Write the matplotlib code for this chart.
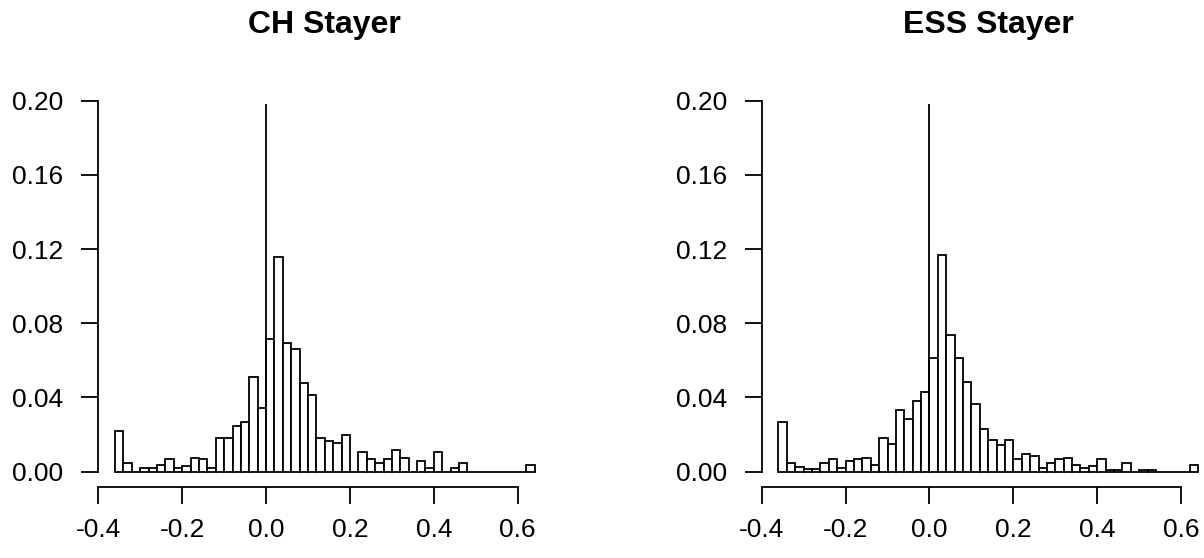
import matplotlib
matplotlib.use("Agg")
import matplotlib.pyplot as plt
import numpy as np

# ---- data ----
bin_start = -0.36
bin_width = 0.02
n_bins = 50

ch_heights = [0.0219, 0.0049, 0.0, 0.0018, 0.0018, 0.0038, 0.0066, 0.0018, 0.0029, 0.0075,
              0.0066, 0.0020, 0.0181, 0.0181, 0.0248, 0.0268, 0.0509, 0.0343, 0.0717, 0.1157,
              0.0695, 0.0660, 0.0478, 0.0413, 0.0181, 0.0164, 0.0156, 0.0199, 0.0, 0.0104,
              0.0066, 0.0049, 0.0066, 0.0115, 0.0075, 0.0, 0.0057, 0.0020, 0.0104, 0.0,
              0.0020, 0.0047, 0.0, 0.0, 0.0, 0.0, 0.0, 0.0, 0.0, 0.0038]

ess_heights = [0.0268, 0.0047, 0.0027, 0.0012, 0.0012, 0.0047, 0.0066, 0.0020, 0.0058, 0.0066,
               0.0075, 0.0038, 0.0181, 0.0151, 0.0334, 0.0286, 0.0383, 0.0431, 0.0615, 0.1168,
               0.0735, 0.0615, 0.0485, 0.0363, 0.0228, 0.0173, 0.0143, 0.0173, 0.0066, 0.0095,
               0.0086, 0.0018, 0.0047, 0.0066, 0.0075, 0.0038, 0.0018, 0.0029, 0.0066, 0.0009,
               0.0009, 0.0047, 0.0, 0.0009, 0.0009, 0.0, 0.0, 0.0, 0.0, 0.0038]

titles = ["CH Stayer", "ESS Stayer"]
x_ticks = [-0.4, -0.2, 0.0, 0.2, 0.4, 0.6]
x_tick_labels = ["-0.4", "-0.2", "0.0", "0.2", "0.4", "0.6"]
y_ticks = [0.00, 0.04, 0.08, 0.12, 0.16, 0.20]
y_tick_labels = ["0.00", "0.04", "0.08", "0.12", "0.16", "0.20"]
vline_top = 0.198

# ---- figure ----
W, H = 1204, 558
fig = plt.figure(figsize=(W / 100, H / 100), dpi=100)
plt.rcParams['font.family'] = ['Liberation Sans', 'DejaVu Sans']

edges = bin_start + bin_width * np.arange(n_bins)
xlim = (-0.40, 0.68)
ylim = (-0.008, 0.208)

ax_left_px = [98.3, 761.7]
ax_w_px = 453.0
ax_top_px = 85.9
ax_bot_px = 486.5

for i, (title, heights) in enumerate(zip(titles, [ch_heights, ess_heights])):
    ax = fig.add_axes([ax_left_px[i] / W, 1 - ax_bot_px / H,
                       ax_w_px / W, (ax_bot_px - ax_top_px) / H])
    ax.bar(edges, heights, width=bin_width, align='edge',
           facecolor='white', edgecolor='black', linewidth=1.3)
    ax.vlines(0.0, 0.0, vline_top, color='black', linewidth=1.3)
    ax.set_xlim(*xlim)
    ax.set_ylim(*ylim)
    for s in ['top', 'right']:
        ax.spines[s].set_visible(False)
    ax.spines['left'].set_bounds(0.0, 0.2)
    ax.spines['bottom'].set_bounds(-0.4, 0.6)
    for s in ['left', 'bottom']:
        ax.spines[s].set_linewidth(1.3)
    ax.set_xticks(x_ticks)
    ax.set_xticklabels(x_tick_labels)
    ax.set_yticks(y_ticks)
    ax.set_yticklabels(y_tick_labels)
    ax.tick_params(axis='both', direction='out', length=12, width=1.3,
                   labelsize=19, colors='black')
    ax.tick_params(axis='x', pad=11)
    ax.tick_params(axis='y', pad=13)
    cx = (ax_left_px[i] + ax_w_px / 2) / W
    fig.text(cx, 1 - 33 / H, title, ha='center', va='baseline',
             fontsize=23, fontweight='bold')

fig.savefig("out.png", dpi=100)
